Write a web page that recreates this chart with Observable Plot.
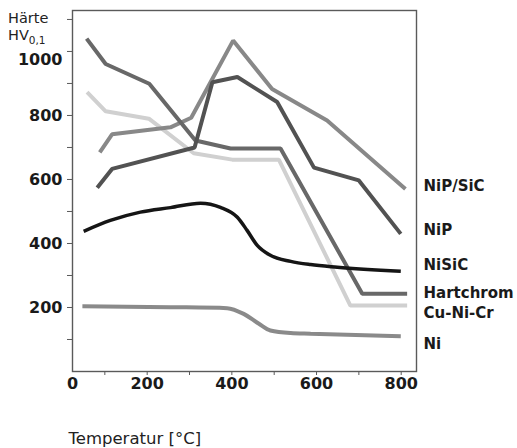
<!DOCTYPE html>
<html><head><meta charset="utf-8">
<script src="https://cdn.jsdelivr.net/npm/d3@7"></script>
<script src="https://cdn.jsdelivr.net/npm/@observablehq/plot@0.6"></script>
<style>
body{margin:0;background:#fff}
#wrap{position:relative;width:517px;height:448px}
.yt{position:absolute;left:8px;font-family:'DejaVu Sans';font-size:14.5px;line-height:15px;color:#222;white-space:nowrap}
.yt sub{font-size:10.5px;line-height:11px;vertical-align:baseline;position:relative;top:4px}
</style></head><body>
<div id="wrap">
  <div class="yt" style="top:11px">Härte</div>
  <div class="yt" style="top:28px">HV<sub>0,1</sub></div>
</div>
<script>
// Temperature (°C) and hardness values
const cuNiCrT = [58, 102, 204, 310, 401, 511, 680, 814];
const cuNiCrV = [873, 813, 790, 682, 662, 662, 206, 206];

const nipSicT = [88, 117, 255, 304, 403, 495, 625, 810];
const nipSicV = [685, 741, 763, 793, 1034, 883, 784, 570];

const hartchromT = [57, 102, 205, 314, 397, 515, 708, 814];
const hartchromV = [1040, 961, 899, 722, 697, 697, 243, 243];

const nipT = [82, 117, 312, 354, 413, 507, 594, 700, 799];
const nipV = [574, 633, 700, 904, 920, 842, 637, 597, 430];

const niT = [47, 255, 389, 428, 464, 491, 539, 586, 799];
const niV = [204, 201, 198, 180, 149, 128, 120, 118, 110];

const nisicT = [50, 113, 184, 255, 326, 373, 413, 436, 460, 491, 539, 586, 649, 799];
const nisicV = [438, 472, 498, 512, 526, 513, 482, 441, 394, 363, 344, 334, 326, 313];

const labelNames = ["NiP/SiC", "NiP", "NiSiC", "Hartchrom", "Cu-Ni-Cr", "Ni"];
const labelV = [580, 441, 331, 244, 181, 86];

const xTicks = [100, 200, 300, 400, 500, 600, 700, 800];
const yTicks = [100, 200, 300, 400, 500, 600, 700, 800, 900, 1000, 1100];
const yLabels = [200, 400, 600, 800];
const yLabelTop = [1000];

const series = [
  {name: "Cu-Ni-Cr", T: cuNiCrT, V: cuNiCrV, color: "#d0d0d0", w: 4, curve: "linear"},
  {name: "NiP/SiC", T: nipSicT, V: nipSicV, color: "#888888", w: 4, curve: "linear"},
  {name: "Hartchrom", T: hartchromT, V: hartchromV, color: "#686868", w: 4, curve: "linear"},
  {name: "NiP", T: nipT, V: nipV, color: "#525252", w: 4, curve: "linear"},
  {name: "Ni", T: niT, V: niV, color: "#8a8a8a", w: 4, curve: "monotone-x"},
  {name: "NiSiC", T: nisicT, V: nisicV, color: "#151515", w: 3.5, curve: "monotone-x"}
];

const rows = [];
series.forEach(s => s.T.forEach((t, i) => rows.push({series: s.name, T: t, V: s.V[i]})));
const labels = labelNames.map((n, i) => ({name: n, V: labelV[i]}));

const boldFont = {fontFamily: "DejaVu Sans", fontWeight: 700, fontSize: 16};
const labelFont = {fontFamily: "DejaVu Sans", fontWeight: 700, fontSize: 15};

const chart = Plot.plot({
  width: 517,
  height: 448,
  marginLeft: 72,
  marginRight: 101,
  marginTop: 10,
  marginBottom: 77,
  style: {background: "transparent", color: "#1a1a1a"},
  x: {type: "linear", domain: [0, 800], range: [62, 400.7], label: null},
  y: {type: "linear", domain: [0, 1128], label: null},
  marks: [
    Plot.frame({stroke: "#5a5a5a", strokeWidth: 1.4}),
    Plot.axisY({ticks: yTicks, tickFormat: () => "", tickSize: 5, stroke: "#5a5a5a", label: null}),
    Plot.axisY({ticks: yLabels, tickFormat: d => String(d), tickSize: 0, tickPadding: 10, label: null, fill: "#1a1a1a", ...boldFont}),
    Plot.axisY({ticks: yLabelTop, tickFormat: d => String(d), tickSize: 0, tickPadding: 10, dy: 8, label: null, fill: "#1a1a1a", ...boldFont}),
    Plot.axisX({ticks: xTicks, tickFormat: d => d % 200 === 0 ? String(d) : "", tickSize: 4, tickPadding: 2, stroke: "#5a5a5a", fill: "#1a1a1a", label: null, ...boldFont}),
    Plot.text(["0"], {frameAnchor: "bottom-left", text: d => d, lineAnchor: "top", textAnchor: "middle", dy: 6, fill: "#1a1a1a", ...boldFont}),
    ...series.map(s => Plot.line(rows.filter(r => r.series === s.name), {
      x: "T", y: "V", stroke: s.color, strokeWidth: s.w, curve: s.curve,
      strokeLinejoin: "miter", strokeLinecap: "butt"
    })),
    Plot.text(labels, {y: "V", text: "name", frameAnchor: "right", dx: 7, textAnchor: "start", lineAnchor: "middle", fill: "#1a1a1a", ...labelFont}),
    Plot.text(["Temperatur [°C]"], {frameAnchor: "bottom-left", text: d => d, dx: -4, dy: 67, textAnchor: "start", lineAnchor: "middle", fill: "#222", fontFamily: "DejaVu Sans", fontSize: 16.5, fontWeight: 400})
  ]
});
const wrap = document.getElementById("wrap");
chart.style.position = "absolute";
chart.style.left = "0";
chart.style.top = "0";
wrap.insertBefore(chart, wrap.firstChild);
</script>
</body></html>
